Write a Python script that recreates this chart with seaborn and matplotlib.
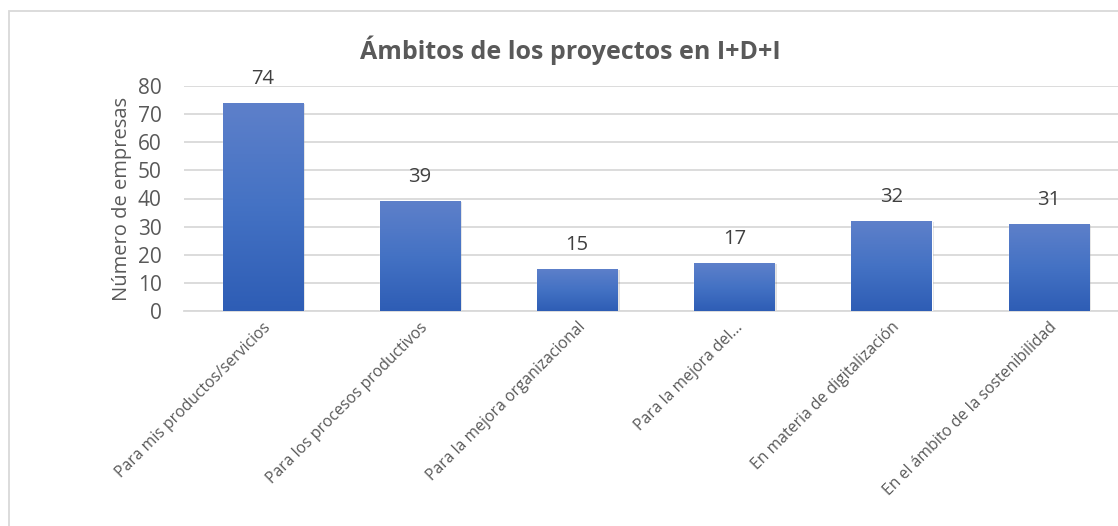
import numpy as np
import pandas as pd
import seaborn as sns
import matplotlib.pyplot as plt
import matplotlib.patches as mpatches
from matplotlib.colors import LinearSegmentedColormap

categorias = ['Para mis productos/servicios', 'Para los procesos productivos',
              'Para la mejora organizacional', 'Para la mejora del...',
              'En materia de digitalización', 'En el ámbito de la sostenibilidad']
empresas = [74, 39, 15, 17, 32, 31]
yticks = [0, 10, 20, 30, 40, 50, 60, 70, 80]

sns.set_style('white')
plt.rcParams['font.family'] = ['Open Sans', 'DejaVu Sans']
txt = '#595959'

df = pd.DataFrame({'cat': categorias, 'n': empresas})

fig = plt.figure(figsize=(11.18, 5.26), dpi=100)
W, H = 1118, 526
ax = fig.add_axes([184 / W, 1 - 311 / H, (W - 184) / W, (311 - 86) / H])

sns.barplot(data=df, x='cat', y='n', color='#4472C4', width=0.51, ax=ax,
            saturation=1, zorder=3)

# gradient fill on the bars
cmap = LinearSegmentedColormap.from_list('g', ['#2E5DB5', '#4472C4', '#5E80CA'])
grad = np.linspace(0, 1, 256).reshape(-1, 1)
for p in ax.patches:
    x0, y0 = p.get_x(), p.get_y()
    w, h = p.get_width(), p.get_height()
    # soft shadow
    ax.add_patch(mpatches.Rectangle((x0 + 0.015, y0), w, h - 0.3, color='#000000',
                                    alpha=0.12, zorder=2, lw=0))
    im = ax.imshow(grad, extent=[x0, x0 + w, y0, y0 + h], origin='lower',
                   cmap=cmap, aspect='auto', zorder=4)
    im.set_clip_path(p)
    ax.text(x0 + w / 2, h + 5, str(int(h)), ha='center', va='bottom',
            fontsize=14.5, color='#404040', zorder=5)

ax.set_xlim(-0.5, 5.44)
ax.set_ylim(0, 80)
ax.set_yticks(yticks)
ax.yaxis.grid(True, color='#D9D9D9', lw=1.3, zorder=0)
ax.set_axisbelow(True)
for s in ['top', 'right', 'left']:
    ax.spines[s].set_visible(False)
ax.spines['bottom'].set_color('#D9D9D9')
ax.spines['bottom'].set_linewidth(1.3)
ax.tick_params(axis='y', labelsize=15, labelcolor=txt, length=0, pad=16)
ax.tick_params(axis='x', labelsize=11.3, labelcolor=txt, length=0, pad=6)
plt.setp(ax.get_xticklabels(), rotation=45, ha='right', rotation_mode='anchor')
ax.set_xlabel('')
ax.set_ylabel('Número de empresas', fontsize=14.5, color=txt, labelpad=4)

fig.text(570 / W, 1 - 50 / H, 'Ámbitos de los proyectos en I+D+I', ha='center',
         va='center', fontsize=18, fontweight='bold', color=txt)

fig.patches.append(mpatches.Rectangle((9 / W, -0.05), 1.2, 1 - 11 / H + 0.05,
                                      transform=fig.transFigure, fill=False,
                                      edgecolor='#D9D9D9', lw=1.3))

fig.savefig('out.png', dpi=100)
